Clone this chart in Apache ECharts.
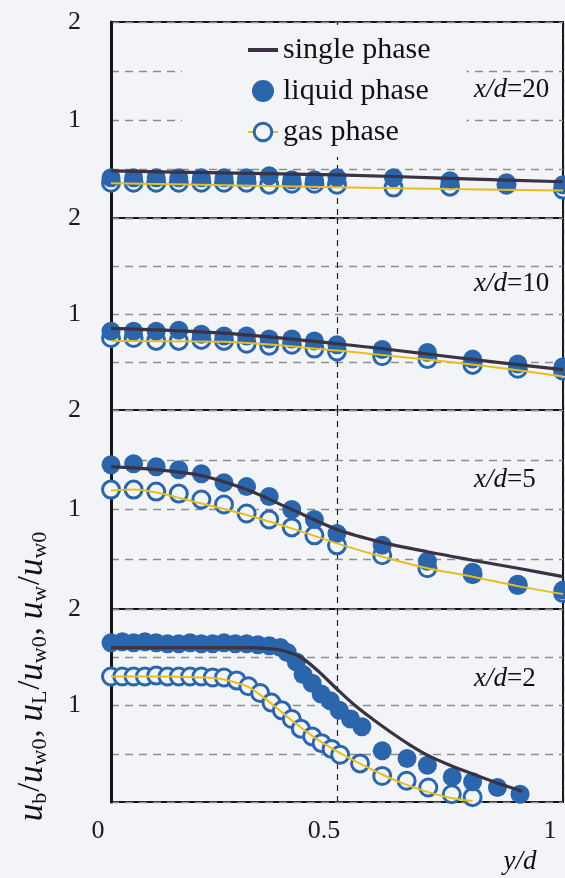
<!DOCTYPE html>
<html><head><meta charset="utf-8">
<script src="https://cdn.jsdelivr.net/npm/echarts@6/dist/echarts.min.js"></script>
<style>html,body{margin:0;padding:0;background:#f3f4f7}#c{width:565px;height:878px}</style>
</head><body><div id="c"></div>
<script>
// ---------- data ----------
const xTickValues = [0, 0.5, 1];
const xTickLabels = ['0', '0.5', '1'];
const yTickValues = [1, 2];
const yTickLabels = ['1', '2'];
const panelLabels = ['20', '10', '5', '2'];
const seriesNames = ['single phase', 'liquid phase', 'gas phase'];

// x/d = 20
const xPts20 = [0, 0.05, 0.1, 0.15, 0.2, 0.25, 0.3, 0.35, 0.4, 0.45, 0.5, 0.625, 0.75, 0.875, 1.0];
const liquid20 = [0.41, 0.41, 0.41, 0.41, 0.41, 0.41, 0.41, 0.43, 0.39, 0.39, 0.41, 0.41, 0.38, 0.36, 0.34];
const gas20 = [0.36, 0.36, 0.36, 0.36, 0.36, 0.36, 0.36, 0.34, 0.35, 0.35, 0.34, 0.31, 0.32, 0.34, 0.29];
const singleX20 = [0, 0.25, 0.5, 0.75, 1.0];
const single20 = [0.48, 0.46, 0.44, 0.405, 0.37];
const gasFitX20 = [0, 0.25, 0.5, 0.75, 1.0];
const gasFit20 = [0.355, 0.335, 0.315, 0.295, 0.28];

// x/d = 10
const xPts10 = [0, 0.05, 0.1, 0.15, 0.2, 0.25, 0.3, 0.35, 0.4, 0.45, 0.5, 0.6, 0.7, 0.8, 0.9, 1.0];
const liquid10 = [0.82, 0.82, 0.82, 0.83, 0.79, 0.77, 0.77, 0.74, 0.74, 0.72, 0.68, 0.63, 0.60, 0.53, 0.48, 0.45];
const gas10 = [0.75, 0.75, 0.72, 0.72, 0.73, 0.72, 0.69, 0.67, 0.68, 0.64, 0.61, 0.56, 0.53, 0.47, 0.43, 0.41];
const singleX10 = [0, 0.25, 0.5, 0.625, 0.75, 0.875, 1.0];
const single10 = [0.85, 0.80, 0.69, 0.625, 0.555, 0.486, 0.42];
const gasFitX10 = [0, 0.25, 0.5, 0.625, 0.75, 0.875, 1.0];
const gasFit10 = [0.72, 0.71, 0.62, 0.56, 0.50, 0.43, 0.35];

// x/d = 5
const xPts5 = [0, 0.05, 0.1, 0.15, 0.2, 0.25, 0.3, 0.35, 0.4, 0.45, 0.5, 0.6, 0.7, 0.8, 0.9, 1.0];
const liquid5 = [1.45, 1.46, 1.43, 1.40, 1.36, 1.27, 1.23, 1.13, 1.00, 0.90, 0.76, 0.64, 0.48, 0.37, 0.25, 0.19];
const gas5 = [1.20, 1.20, 1.18, 1.16, 1.10, 1.05, 0.96, 0.90, 0.82, 0.74, 0.64, 0.54, 0.41, 0.35, 0.24, 0.16];
const singleX5 = [0, 0.1, 0.2, 0.3, 0.4, 0.5, 0.6, 0.7, 0.8, 0.9, 1.0];
const single5 = [1.43, 1.40, 1.34, 1.20, 1.00, 0.80, 0.67, 0.575, 0.49, 0.41, 0.325];
const gasFitX5 = [0, 0.05, 0.1, 0.2, 0.3, 0.4, 0.5, 0.6, 0.7, 0.8, 0.9, 1.0];
const gasFit5 = [1.19, 1.20, 1.17, 1.06, 0.945, 0.81, 0.66, 0.525, 0.41, 0.325, 0.23, 0.15];

// x/d = 2
const liquidX2 = [0, 0.025, 0.05, 0.075, 0.1, 0.125, 0.15, 0.175, 0.2, 0.225, 0.25, 0.275, 0.3, 0.325, 0.35, 0.375, 0.39, 0.41, 0.425, 0.445, 0.465, 0.485, 0.505, 0.53, 0.555, 0.6, 0.655, 0.7, 0.755, 0.8, 0.855, 0.905];
const liquid2 = [1.65, 1.66, 1.65, 1.66, 1.65, 1.64, 1.64, 1.65, 1.64, 1.64, 1.65, 1.64, 1.64, 1.63, 1.62, 1.60, 1.55, 1.45, 1.32, 1.23, 1.12, 1.05, 0.95, 0.86, 0.78, 0.53, 0.45, 0.38, 0.26, 0.21, 0.15, 0.08];
const gasX2 = [0, 0.025, 0.05, 0.075, 0.1, 0.125, 0.15, 0.175, 0.2, 0.225, 0.25, 0.278, 0.304, 0.33, 0.355, 0.378, 0.4, 0.42, 0.445, 0.466, 0.488, 0.507, 0.551, 0.6, 0.654, 0.702, 0.754, 0.8];
const gas2 = [1.30, 1.30, 1.30, 1.30, 1.31, 1.30, 1.30, 1.30, 1.30, 1.29, 1.29, 1.26, 1.20, 1.13, 1.03, 0.95, 0.86, 0.76, 0.68, 0.61, 0.55, 0.49, 0.40, 0.27, 0.22, 0.15, 0.08, 0.05];
const singleX2 = [0, 0.1, 0.2, 0.3, 0.35, 0.38, 0.42, 0.46, 0.5, 0.54, 0.58, 0.62, 0.66, 0.7, 0.75, 0.8, 0.85, 0.91];
const single2 = [1.60, 1.60, 1.60, 1.60, 1.59, 1.57, 1.50, 1.35, 1.17, 1.00, 0.855, 0.72, 0.595, 0.485, 0.38, 0.29, 0.205, 0.11];
const gasFitX2 = [0, 0.1, 0.2, 0.25, 0.3, 0.33, 0.36, 0.4, 0.45, 0.5, 0.55, 0.6, 0.65, 0.7, 0.75, 0.8];
const gasFit2 = [1.30, 1.30, 1.29, 1.27, 1.20, 1.11, 1.00, 0.845, 0.67, 0.525, 0.40, 0.285, 0.185, 0.105, 0.045, 0.01];

// ---------- build ----------
const panels = [
  { label: panelLabels[0], lx: xPts20, ly: liquid20, gx: xPts20, gy: gas20, sx: singleX20, sy: single20, fx: gasFitX20, fy: gasFit20 },
  { label: panelLabels[1], lx: xPts10, ly: liquid10, gx: xPts10, gy: gas10, sx: singleX10, sy: single10, fx: gasFitX10, fy: gasFit10 },
  { label: panelLabels[2], lx: xPts5, ly: liquid5, gx: xPts5, gy: gas5, sx: singleX5, sy: single5, fx: gasFitX5, fy: gasFit5 },
  { label: panelLabels[3], lx: liquidX2, ly: liquid2, gx: gasX2, gy: gas2, sx: singleX2, sy: single2, fx: gasFitX2, fy: gasFit2 }
];
const zip = (a, b) => a.map((v, i) => [v, b[i]]);

const FONT = 'Liberation Serif';
const BG = '#f3f4f7';
const BLUE = '#2b66ad';
const DARK = '#3a3245';
const GOLD = '#e6bf1e';
const gridTops = [22, 218, 410, 609];
const gridHeights = [196, 192, 199, 193];

const grids = [], xAxes = [], yAxes = [], series = [];
panels.forEach((p, i) => {
  grids.push({ left: 111, width: 452, top: gridTops[i], height: gridHeights[i], show: true,
    borderColor: '#161616', borderWidth: 2, backgroundColor: 'transparent' });
  const last = i === panels.length - 1;
  xAxes.push({ type: 'value', gridIndex: i, min: 0, max: 1, interval: 0.5,
    axisLine: { show: false }, axisTick: { show: false },
    axisLabel: { show: last, fontFamily: FONT, fontSize: 26, color: '#1a1a1a', margin: 16,
      padding: [0, 26, 0, 0],
      formatter: v => { const k = xTickValues.indexOf(v); return k >= 0 ? xTickLabels[k] : ''; } },
    splitLine: { show: true, lineStyle: { color: '#222', width: 1.2, type: [6, 5] } } });
  yAxes.push({ type: 'value', gridIndex: i, min: 0, max: 2, interval: 0.5,
    axisLine: { show: true, lineStyle: { color: '#161616', width: 3 } }, axisTick: { show: false },
    axisLabel: { fontFamily: FONT, fontSize: 26, color: '#1a1a1a', margin: 30,
      showMinLabel: true, showMaxLabel: true,
      formatter: v => { const k = yTickValues.indexOf(v); return k >= 0 ? yTickLabels[k] : ''; } },
    splitLine: { show: true, lineStyle: { color: '#8d8d8d', width: 1.3, type: [8, 6] } } });

  series.push({ type: 'line', name: seriesNames[0], xAxisIndex: i, yAxisIndex: i,
    data: zip(p.sx, p.sy), smooth: 0.3, symbol: 'none', z: 6,
    itemStyle: { color: DARK }, lineStyle: { color: DARK, width: 3.2 } });
  series.push({ type: 'line', name: seriesNames[2], xAxisIndex: i, yAxisIndex: i,
    data: zip(p.fx, p.fy), smooth: 0.3, symbol: 'circle', showSymbol: false, z: 5,
    itemStyle: { color: BG, borderColor: BLUE, borderWidth: 3 }, lineStyle: { color: GOLD, width: 2 } });
  series.push({ type: 'scatter', name: seriesNames[2], xAxisIndex: i, yAxisIndex: i,
    data: zip(p.gx, p.gy), symbol: 'circle', symbolSize: 17, z: 2,
    itemStyle: { color: BG, borderColor: BLUE, borderWidth: 3, opacity: 1 } });
  series.push({ type: 'scatter', name: seriesNames[1], xAxisIndex: i, yAxisIndex: i,
    data: zip(p.lx, p.ly), symbol: 'circle', symbolSize: 19, z: 3,
    itemStyle: { color: BLUE, opacity: 1 } });
});

const richMain = {
  i: { fontFamily: FONT, fontSize: 27, fontStyle: 'italic', fill: '#111' },
  n: { fontFamily: FONT, fontSize: 27, fill: '#111' }
};
const graphic = panels.map((p, i) => ({
  type: 'text', x: 474, y: [90, 284, 480, 679][i], z: 10,
  style: { text: '{i|x/d}{n|=' + p.label + '}', rich: richMain, align: 'left', verticalAlign: 'middle' }
}));
graphic.push({
  type: 'text', x: 520, y: 862, z: 10,
  style: { text: '{i|y/d}', rich: richMain, align: 'center', verticalAlign: 'middle' }
});
graphic.push({
  type: 'text', x: 31, y: 676, rotation: Math.PI / 2, z: 10,
  style: {
    text: '{u|u}{s|b}{p|/}{u|u}{s|w0}{p|, }{u|u}{s|L}{p|/}{u|u}{s|w0}{p|, }{u|u}{s|w}{p|/}{u|u}{s|w0}',
    align: 'center', verticalAlign: 'middle',
    rich: {
      u: { fontFamily: FONT, fontSize: 35, fontStyle: 'italic', fill: '#111', lineHeight: 32, verticalAlign: 'top' },
      p: { fontFamily: FONT, fontSize: 32, fill: '#111', lineHeight: 32, verticalAlign: 'top' },
      s: { fontFamily: FONT, fontSize: 22, fill: '#111', lineHeight: 22, padding: [14, 1, 0, 0], verticalAlign: 'top' }
    }
  }
});

const chart = echarts.init(document.getElementById('c'), null, { renderer: 'canvas' });
chart.setOption({
  backgroundColor: BG,
  animation: false,
  grid: grids, xAxis: xAxes, yAxis: yAxes, series: series,
  legend: {
    orient: 'vertical', left: 182, top: 25, padding: [10, 36, 10, 65],
    itemWidth: 30, itemHeight: 22, itemGap: 11, backgroundColor: BG, z: 8,
    textStyle: { fontFamily: FONT, fontSize: 30, color: '#111' },
    data: [
      { name: seriesNames[0], icon: 'path://M0,0H30V4H0Z' },
      { name: seriesNames[1], icon: 'circle' },
      { name: seriesNames[2], itemStyle: { borderWidth: 3 } }
    ],
    selectedMode: false
  },
  graphic: graphic
});
</script></body></html>
